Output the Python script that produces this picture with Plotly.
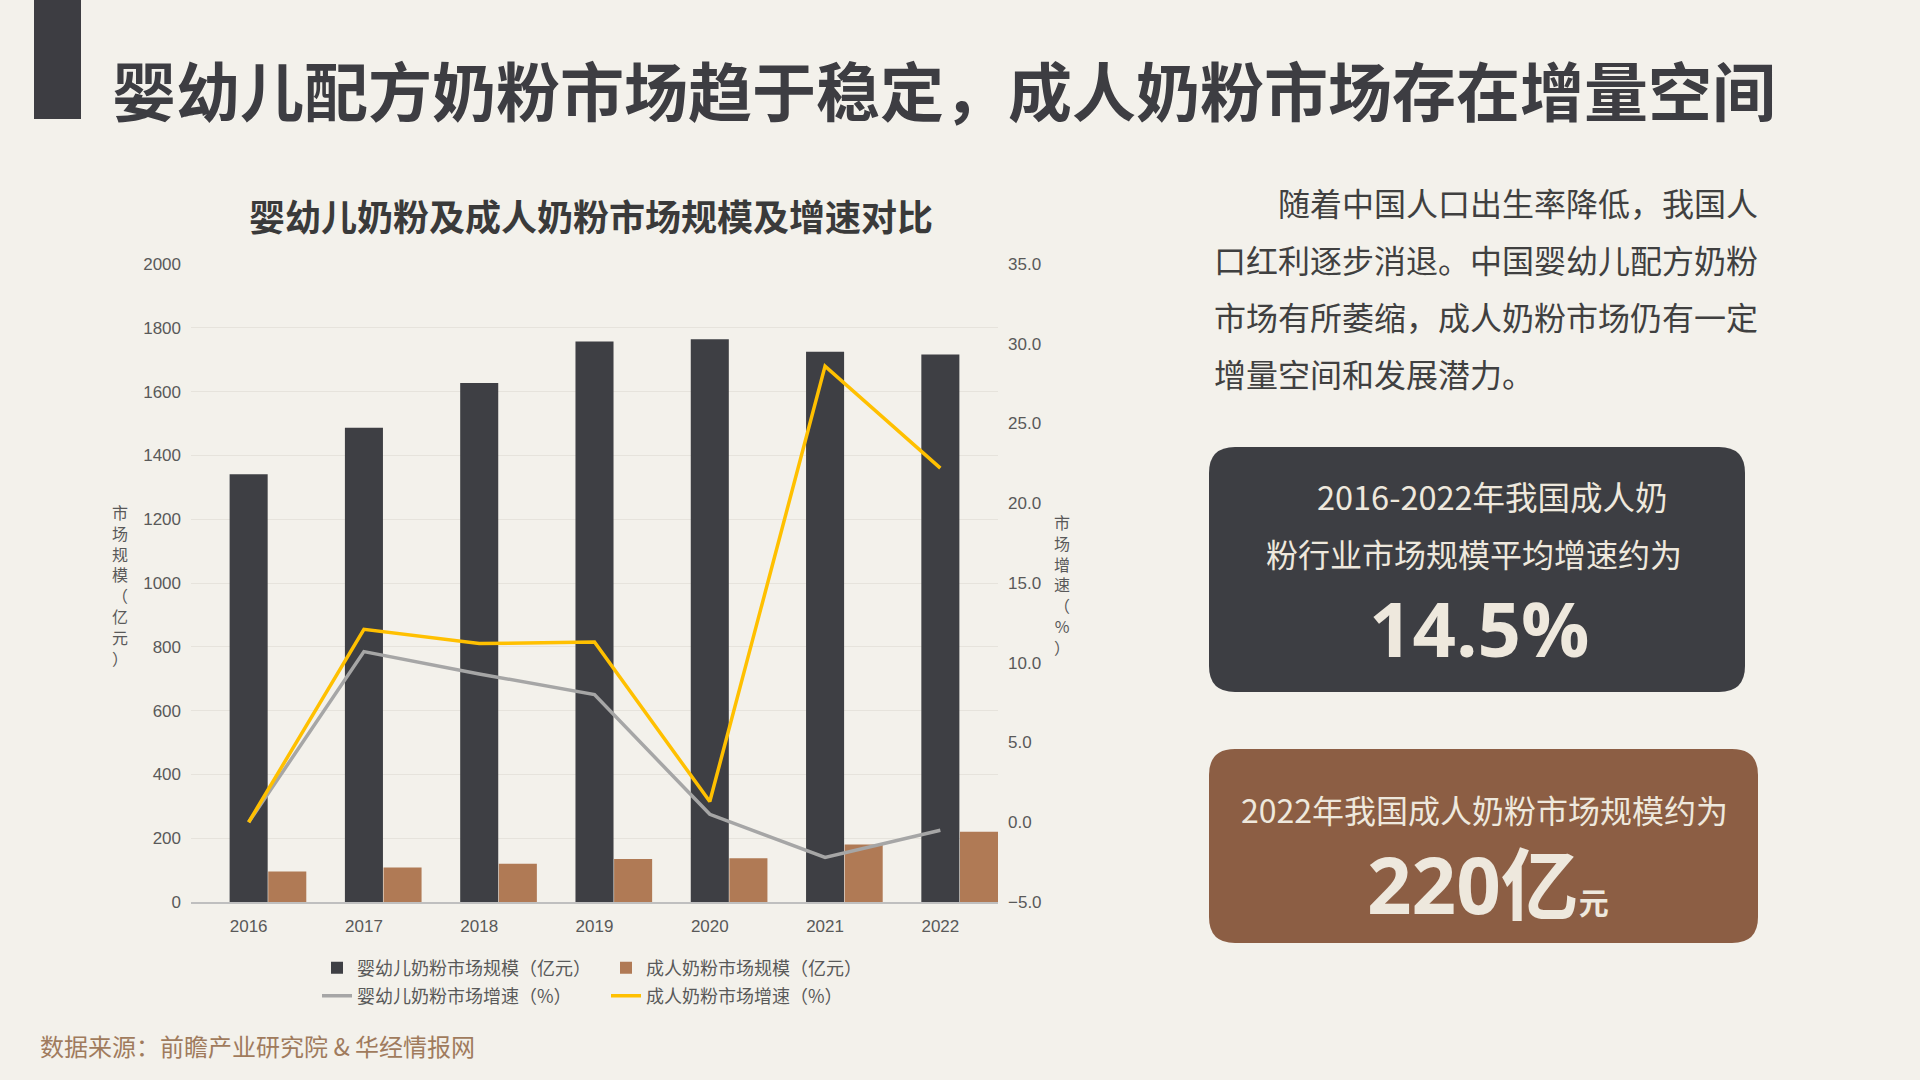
import plotly.graph_objects as go

# ---------------- data ----------------
years = ["2016", "2017", "2018", "2019", "2020", "2021", "2022"]
infant_size = [1341, 1487, 1627, 1757, 1764, 1725, 1716]      # 亿元
adult_size = [96, 108, 120, 135, 137, 180, 220]               # 亿元
infant_growth = [0.0, 10.7, 9.3, 8.0, 0.5, -2.2, -0.5]        # %
adult_growth = [0.0, 12.1, 11.2, 11.3, 1.3, 28.6, 22.2]       # %

series_names = ["婴幼儿奶粉市场规模（亿元）", "成人奶粉市场规模（亿元）",
                "婴幼儿奶粉市场增速（%）", "成人奶粉市场增速（%）"]
left_ticks = list(range(0, 2001, 200))
right_ticks = [-5, 0, 5, 10, 15, 20, 25, 30, 35]

title_text = "婴幼儿配方奶粉市场趋于稳定，成人奶粉市场存在增量空间"
chart_title = "婴幼儿奶粉及成人奶粉市场规模及增速对比"
left_axis_title = "市场规模（亿元）"
right_axis_title = "市场增速（%）"
paragraph_lines = ["\u3000\u3000随着中国人口出生率降低，我国人",
                   "口红利逐步消退。中国婴幼儿配方奶粉",
                   "市场有所萎缩，成人奶粉市场仍有一定",
                   "增量空间和发展潜力。"]
box1_lines = ["2016-2022年我国成人奶", "粉行业市场规模平均增速约为"]
box1_value = "14.5%"
box2_line = "2022年我国成人奶粉市场规模约为"
box2_value = "220亿"
box2_unit = "元"
source_text = "数据来源：前瞻产业研究院 & 华经情报网"

# ---------------- style ----------------
BG = "#F3F1EB"
DARK = "#3E3F44"
BROWN = "#B07A55"
GRAY = "#A6A6A6"
YELLOW = "#FFC000"
BOX_DARK = "#3D3E43"
BOX_BROWN = "#8C5E44"
CREAM = "#EEE8DD"
TXT = "#404040"
TICK = "#595959"
SRC = "#A07B5D"
CJK = "Noto Sans CJK SC"
NUM = "Liberation Sans, Noto Sans CJK SC"

W, H = 1920, 1080
ML, MR, MT, MB = 191, 922, 264, 178
PW = W - ML - MR
PH = H - MT - MB


def px(xp):
    return (xp - ML) / PW


def py(yp):
    return (H - MB - yp) / PH


fig = go.Figure()

fig.add_trace(go.Bar(x=years, y=infant_size, name=series_names[0],
                     marker=dict(color=DARK, line=dict(width=0)),
                     width=0.33, offset=-0.165, legend="legend"))
fig.add_trace(go.Bar(x=years, y=adult_size, name=series_names[1],
                     marker=dict(color=BROWN, line=dict(width=0)),
                     width=0.33, offset=0.17, legend="legend"))
fig.add_trace(go.Scatter(x=years, y=infant_growth, name=series_names[2],
                         mode="lines", line=dict(color=GRAY, width=3.5),
                         yaxis="y2", legend="legend2"))
fig.add_trace(go.Scatter(x=years, y=adult_growth, name=series_names[3],
                         mode="lines", line=dict(color=YELLOW, width=3.5),
                         yaxis="y2", legend="legend2"))

shapes = []
# title bar
shapes.append(dict(type="rect", xref="paper", yref="paper",
                   x0=px(34), x1=px(81), y0=py(0), y1=py(119),
                   fillcolor="#3D3D42", line=dict(width=0), layer="below"))


def rounded(x0, y0, x1, y1, r, color):
    X = lambda v: px(v)
    Y = lambda v: py(v)
    path = (f"M {X(x0 + r)},{Y(y0)} L {X(x1 - r)},{Y(y0)} "
            f"Q {X(x1)},{Y(y0)} {X(x1)},{Y(y0 + r)} "
            f"L {X(x1)},{Y(y1 - r)} Q {X(x1)},{Y(y1)} {X(x1 - r)},{Y(y1)} "
            f"L {X(x0 + r)},{Y(y1)} Q {X(x0)},{Y(y1)} {X(x0)},{Y(y1 - r)} "
            f"L {X(x0)},{Y(y0 + r)} Q {X(x0)},{Y(y0)} {X(x0 + r)},{Y(y0)} Z")
    return dict(type="path", xref="paper", yref="paper", path=path,
                fillcolor=color, line=dict(width=0), layer="below")


shapes.append(rounded(1209, 447, 1745, 692, 26, BOX_DARK))
shapes.append(rounded(1209, 749, 1758, 943, 26, BOX_BROWN))

ann = []
ann.append(dict(text=f"<b>{title_text}</b>", x=px(110), y=py(88), xref="paper", yref="paper",
                xanchor="left", yanchor="middle", showarrow=False,
                font=dict(family=CJK, size=64, color="#3D3D42", weight=900)))
ann.append(dict(text=f"<b>{chart_title}</b>", x=px(591), y=py(215), xref="paper", yref="paper",
                xanchor="center", yanchor="middle", showarrow=False,
                font=dict(family=CJK, size=36, color="#3A3A3A")))
ann.append(dict(text="<br>".join(list(left_axis_title)), x=px(120), y=py(585),
                xref="paper", yref="paper", xanchor="center", yanchor="middle",
                showarrow=False, font=dict(family=CJK, size=16, color=TICK)))
ann.append(dict(text="<br>".join(list(right_axis_title)), x=px(1062), y=py(584),
                xref="paper", yref="paper", xanchor="center", yanchor="middle",
                showarrow=False, font=dict(family=CJK, size=16, color=TICK)))

line_y = [202, 259, 316, 373]
for t, yy in zip(paragraph_lines, line_y):
    ann.append(dict(text=t, x=px(1212), y=py(yy), xref="paper", yref="paper",
                    xanchor="left", yanchor="middle", showarrow=False,
                    font=dict(family=CJK, size=32, color=TXT)))

ann.append(dict(text=box1_lines[0], x=px(1492), y=py(495), xref="paper", yref="paper",
                xanchor="center", yanchor="middle", showarrow=False,
                font=dict(family=CJK, size=32.5, color=CREAM)))
ann.append(dict(text=box1_lines[1], x=px(1474), y=py(553), xref="paper", yref="paper",
                xanchor="center", yanchor="middle", showarrow=False,
                font=dict(family=CJK, size=32, color=CREAM)))
ann.append(dict(text=f"<b>{box1_value}</b>", x=px(1479), y=py(627), xref="paper", yref="paper",
                xanchor="center", yanchor="middle", showarrow=False,
                font=dict(family="Open Sans", size=76, color=CREAM)))
ann.append(dict(text=box2_line, x=px(1484), y=py(809), xref="paper", yref="paper",
                xanchor="center", yanchor="middle", showarrow=False,
                font=dict(family=CJK, size=32, color=CREAM)))
ann.append(dict(text=f"<b>{box2_value}</b><b><span style='font-size:30px'>{box2_unit}</span></b>",
                x=px(1488), y=py(884), xref="paper", yref="paper",
                xanchor="center", yanchor="middle", showarrow=False,
                font=dict(family="Open Sans, Noto Sans CJK SC", size=78, color=CREAM)))
ann.append(dict(text=source_text, x=px(38), y=py(1045), xref="paper", yref="paper",
                xanchor="left", yanchor="middle", showarrow=False,
                font=dict(family=CJK, size=24, color=SRC)))

fig.update_layout(
    width=W, height=H,
    paper_bgcolor=BG, plot_bgcolor=BG,
    margin=dict(l=ML, r=MR, t=MT, b=MB, pad=0),
    barmode="overlay",
    xaxis=dict(type="category", range=[-0.5, 6.5], showgrid=False,
               showline=True, linecolor="#BFBFBF", linewidth=1.5,
               ticks="", tickfont=dict(family=NUM, size=17, color=TICK),
               ticklabelstandoff=8),
    yaxis=dict(range=[0, 2000], tickvals=left_ticks, showgrid=True,
               gridcolor="#E6E3DC", gridwidth=1, zeroline=False, showline=False,
               ticks="", tickfont=dict(family=NUM, size=17, color=TICK),
               ticklabelstandoff=9),
    yaxis2=dict(range=[-5, 35], tickvals=right_ticks, overlaying="y", side="right",
                showgrid=False, zeroline=False, showline=False, ticks="",
                tickformat=".1f", tickfont=dict(family=NUM, size=17, color=TICK),
                ticklabelstandoff=9),
    legend=dict(orientation="h", xref="container", yref="container",
                x=317 / W, y=1 - 968 / H, xanchor="left", yanchor="middle",
                entrywidth=244, entrywidthmode="pixels", bgcolor="rgba(0,0,0,0)",
                font=dict(family=CJK, size=18, color=TICK), itemclick=False),
    legend2=dict(orientation="h", xref="container", yref="container",
                 x=317 / W, y=1 - 996 / H, xanchor="left", yanchor="middle",
                 entrywidth=244, entrywidthmode="pixels", bgcolor="rgba(0,0,0,0)",
                 font=dict(family=CJK, size=18, color=TICK), itemclick=False),
    shapes=shapes,
    annotations=ann,
    showlegend=True,
)

fig.write_html("out.html",
               config={"displayModeBar": False},
               post_script="document.body.style.margin='0';"
                           "document.body.style.padding='0';"
                           "document.body.style.background='" + BG + "';")
